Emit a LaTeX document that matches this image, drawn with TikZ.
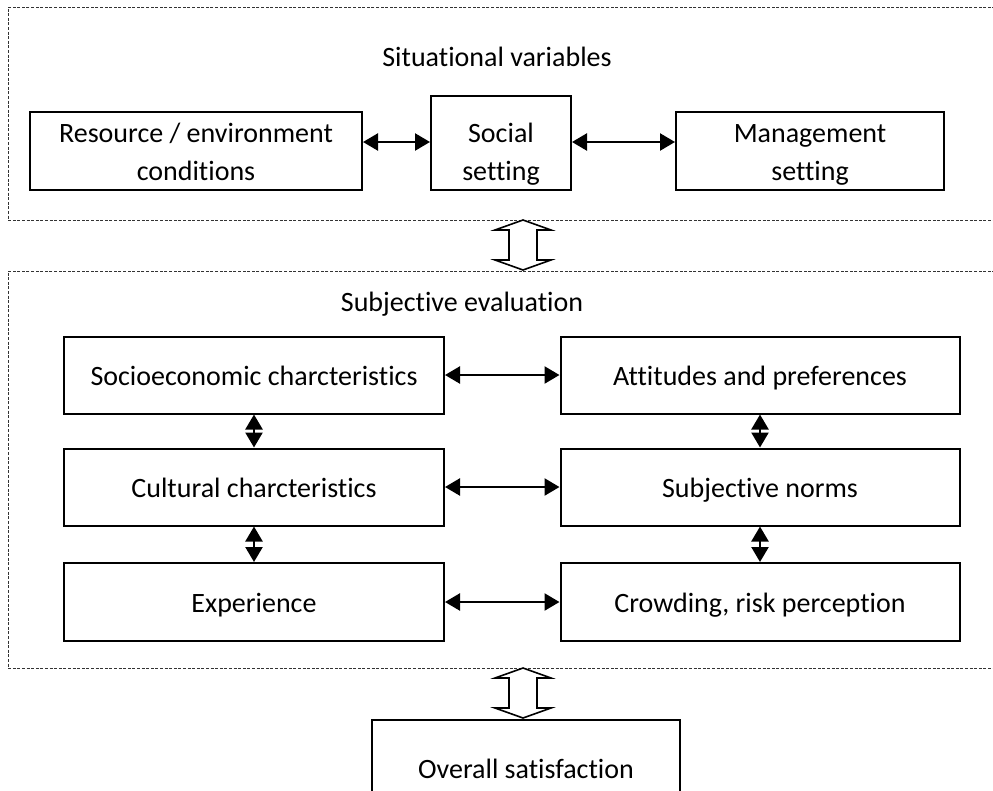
\documentclass[tikz,border=0pt]{standalone}
\usepackage{fontspec}
\setmainfont{Carlito}[RawFeature={-liga}]
\usetikzlibrary{arrows.meta}
\newcommand{\ms}{\rule[-5pt]{0pt}{30pt}}
\begin{document}
\begin{tikzpicture}[x=1pt,y=-1pt,
  box/.style={draw,line width=2pt,align=center,inner sep=0pt,font=\fontsize{28}{38}\selectfont},
  lbl/.style={inner sep=0pt,align=center,font=\fontsize{28}{38}\selectfont},
  region/.style={draw=black!80,line width=1pt,dash pattern=on 3pt off 1.6pt},
  dbl/.style={line width=2.4pt,{Triangle[length=15pt,width=17pt]}-{Triangle[length=15pt,width=17pt]}},
  hollow/.style={draw,line width=1.6pt,fill=white,line join=miter}]
\useasboundingbox (0,0) rectangle (993,790);
\clip (0,0) rectangle (993,790);
% regions
\draw[region] (1000,7) -- (8,7) -- (8,220) -- (1000,220);
\draw[region] (1000,271) -- (8,271) -- (8,668) -- (1000,668);
\node[lbl] (sv) at (497,56) {\ms Situational variables};
\node[lbl] (se) at (462,301) {\ms Subjective evaluation};
% top row
\node[box,minimum width=332pt,minimum height=78pt] (res) at (196,151) {\ms Resource / environment\\\ms conditions};
\node[box,minimum width=140pt,minimum height=94pt] (soc) at (501,143) {};
\node[lbl] (socT) at (501,151) {\ms Social\\\ms setting};
\node[box,minimum width=268pt,minimum height=78pt] (man) at (810,151) {\ms Management\\\ms setting};
\draw[dbl] (res.east |- 0,142) -- (soc.west |- 0,142);
\draw[dbl] (soc.east |- 0,142) -- (man.west |- 0,142);
% subjective evaluation boxes
\node[box,minimum width=380pt,minimum height=77pt] (soe) at (254,375) {\ms Socioeconomic charcteristics};
\node[box,minimum width=380pt,minimum height=77pt] (cul) at (254,487) {\ms Cultural charcteristics};
\node[box,minimum width=380pt,minimum height=78pt] (exp) at (254,602) {\ms Experience};
\node[box,minimum width=399pt,minimum height=77pt] (att) at (760,375) {\ms Attitudes and preferences};
\node[box,minimum width=399pt,minimum height=77pt] (nor) at (760,487) {\ms Subjective norms};
\node[box,minimum width=399pt,minimum height=78pt] (cro) at (760,602) {\ms Crowding, risk perception};
\draw[dbl] (soe.east) -- (att.west);
\draw[dbl] (cul.east) -- (nor.west);
\draw[dbl] (exp.east) -- (cro.west);
\draw[dbl] (soe.south) -- (cul.north);
\draw[dbl] (cul.south) -- (exp.north);
\draw[dbl] (att.south) -- (nor.north);
\draw[dbl] (nor.south) -- (cro.north);
% overall
\node[box,minimum width=308pt,minimum height=96pt] (ove) at (526,768) {\ms Overall satisfaction};
% hollow arrows
\coordinate (h1) at (523,220);
\draw[hollow] (h1) -- ++(28,10) -- ++(-14,0) -- ++(0,30) -- ++(14,0) -- ++(-28,10) -- ++(-28,-10) -- ++(14,0) -- ++(0,-30) -- ++(-14,0) -- cycle;
\coordinate (h2) at (523,668);
\draw[hollow] (h2) -- ++(28,10) -- ++(-14,0) -- ++(0,30) -- ++(14,0) -- ++(-28,10) -- ++(-28,-10) -- ++(14,0) -- ++(0,-30) -- ++(-14,0) -- cycle;
\end{tikzpicture}
\end{document}
